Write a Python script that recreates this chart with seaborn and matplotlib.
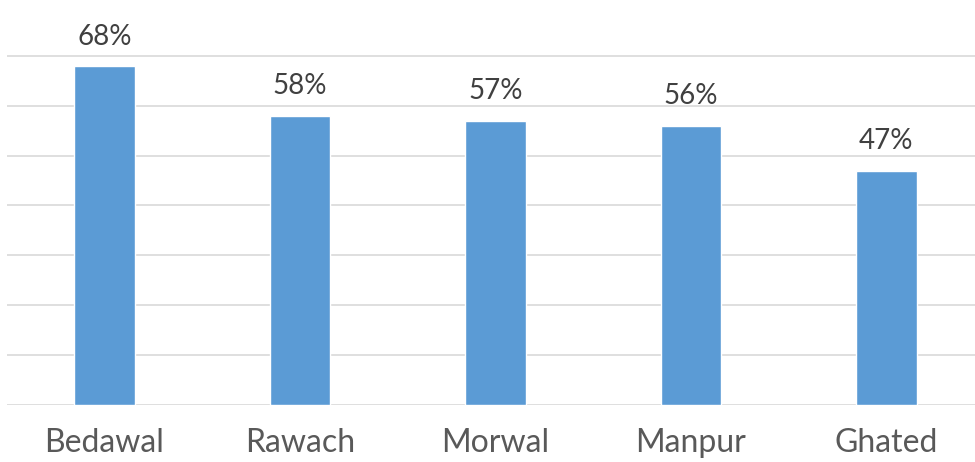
import matplotlib
matplotlib.use("Agg")
import matplotlib.pyplot as plt
import seaborn as sns
import pandas as pd

# Dados
villages = ['Bedawal', 'Rawach', 'Morwal', 'Manpur', 'Ghated']
percent = [68, 58, 57, 56, 47]

df = pd.DataFrame({'village': villages, 'percent': percent})

sns.set_theme(style="white")
plt.rcParams['font.family'] = ['Lato', 'DejaVu Sans']

fig = plt.figure(figsize=(9.75, 4.62), dpi=100)
W, H = 975, 462
left, right = 6.75, 984.0
bottom, top = 404.5, 6.5
ax = fig.add_axes([left / W, (H - bottom) / H, (right - left) / W, (bottom - top) / H])

sns.barplot(data=df, x='village', y='percent', color='#5b9bd5', width=0.31,
            saturation=1, ax=ax, zorder=3)

ax.set_ylim(0, 80)
ax.set_yticks(range(0, 81, 10))
ax.yaxis.grid(True, color='#d9d9d9', linewidth=1.2, zorder=0)
ax.set_axisbelow(True)
ax.set_yticklabels([])
ax.tick_params(axis='y', length=0)
ax.tick_params(axis='x', length=0, pad=17, labelsize=23, labelcolor='#595959')
ax.set_xlabel('')
ax.set_ylabel('')
for s in ax.spines.values():
    s.set_visible(False)

# Rótulos de valor
for i, v in enumerate(percent):
    ax.annotate(f'{v}%', (i, v), xytext=(0, 12), textcoords='offset points',
                ha='center', va='bottom', fontsize=20, color='#404040')

fig.savefig('out.png', dpi=100)
